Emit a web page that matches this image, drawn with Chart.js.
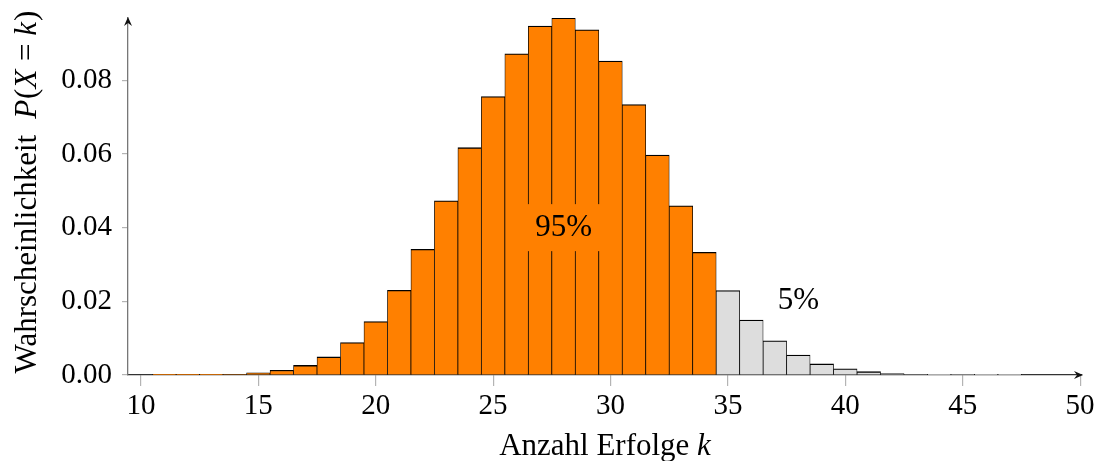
<!DOCTYPE html>
<html>
<head>
<meta charset="utf-8">
<script src="https://cdn.jsdelivr.net/npm/chart.js@4.4.1/dist/chart.umd.min.js"></script>
<style>
  html, body { margin: 0; padding: 0; background: #fff; }
  #wrap { width: 1099px; height: 461px; position: relative; }
</style>
</head>
<body>
<div id="wrap"><canvas id="chart"></canvas></div>
<script>
// number of successes k and P(X = k)
const ks = [10, 11, 12, 13, 14, 15, 16, 17, 18, 19, 20, 21, 22, 23, 24, 25, 26, 27, 28, 29,
            30, 31, 32, 33, 34, 35, 36, 37, 38, 39, 40, 41, 42, 43, 44, 45, 46, 47, 48, 49, 50];
const probs = [0.00000, 0.00001, 0.00003, 0.00008, 0.0002, 0.0006, 0.0013, 0.0026, 0.0049, 0.0088,
               0.0145, 0.0230, 0.0341, 0.0473, 0.0617, 0.0756, 0.0872, 0.0947, 0.0969, 0.0937,
               0.0852, 0.0734, 0.0597, 0.0459, 0.0333, 0.0229, 0.0149, 0.0093, 0.0054, 0.0030,
               0.0017, 0.0009, 0.0004, 0.0002, 0.0001, 0.00004, 0.00002, 0.00001, 0.0, 0.0, 0.0];
const tailFrom = 35; // k >= 35 is the grey 5% tail

const xTicks = [10, 15, 20, 25, 30, 35, 40, 45, 50];
const yTicks = [0, 0.02, 0.04, 0.06, 0.08];

const labelTexts = ['95%', '5%'];
const labelX = [28, 38];
const labelY = [0.04, 0.02];
const labelBoxed = [true, false];

const ORANGE = '#ff8000';
const GREY = '#dddddd';
const FONT = '"Liberation Serif", "DejaVu Serif", serif';

// draws axis titles (with italic math parts), arrows and the 95% / 5% labels
const decorations = {
  id: 'decorations',
  afterDatasetsDraw(chart) {
    const { ctx, chartArea: a, scales: { x, y } } = chart;
    ctx.save();
    ctx.textBaseline = 'middle';
    ctx.textAlign = 'center';
    ctx.font = '31px ' + FONT;
    labelTexts.forEach((t, i) => {
      const px = x.getPixelForValue(labelX[i]);
      const py = y.getPixelForValue(labelY[i]);
      if (labelBoxed[i]) {
        const w = ctx.measureText(t).width + 28;
        ctx.fillStyle = ORANGE;
        ctx.fillRect(px - w / 2, py - 23.5, w, 47);
      }
      ctx.fillStyle = '#000';
      ctx.fillText(t, px, py);
    });
    ctx.restore();
  },
  afterDraw(chart) {
    const { ctx, chartArea: a } = chart;
    ctx.save();
    ctx.fillStyle = '#111';
    // arrow heads
    ctx.beginPath();
    ctx.moveTo(a.left, a.top - 1);
    ctx.lineTo(a.left - 4, a.top + 8);
    ctx.lineTo(a.left, a.top + 5);
    ctx.lineTo(a.left + 4, a.top + 8);
    ctx.closePath();
    ctx.fill();
    ctx.beginPath();
    ctx.moveTo(a.right + 1, a.bottom);
    ctx.lineTo(a.right - 8, a.bottom - 4);
    ctx.lineTo(a.right - 5, a.bottom);
    ctx.lineTo(a.right - 8, a.bottom + 4);
    ctx.closePath();
    ctx.fill();

    // axis titles
    const roman = '31px ' + FONT;
    const ital = 'italic 31px ' + FONT;
    const drawRich = (parts, cx, baseY) => {
      let total = 0;
      parts.forEach(p => { ctx.font = p[1]; total += ctx.measureText(p[0]).width + (p[2] || 0); });
      let cur = cx - total / 2;
      ctx.textAlign = 'left';
      ctx.textBaseline = 'alphabetic';
      ctx.fillStyle = '#000';
      parts.forEach(p => {
        ctx.font = p[1];
        ctx.fillText(p[0], cur, baseY);
        cur += ctx.measureText(p[0]).width + (p[2] || 0);
      });
    };
    drawRich([['Anzahl Erfolge ', roman], ['k', ital]], (a.left + a.right) / 2, 455);

    ctx.translate(36, 192);
    ctx.rotate(-Math.PI / 2);
    drawRich([
      ['Wahrscheinlichkeit', roman, 16],
      ['P', ital, 1], ['(', roman], ['X', ital, 1], [' = ', roman], ['k', ital, 1], [')', roman]
    ], 0, 0);
    ctx.restore();
  }
};

new Chart(document.getElementById('chart'), {
  type: 'bar',
  data: {
    datasets: [{
      data: ks.map((k, i) => ({ x: k, y: probs[i] })),
      backgroundColor: ks.map(k => (k >= tailFrom ? GREY : ORANGE)),
      borderColor: '#000',
      borderWidth: { top: 1.3, left: 0.75, right: 0.75, bottom: 0 },
      borderSkipped: false,
      barPercentage: 1,
      categoryPercentage: 1
    }]
  },
  options: {
    responsive: true,
    maintainAspectRatio: false,
    animation: false,
    layout: { padding: { top: 18, right: 17, left: 0, bottom: 0 } },
    plugins: { legend: { display: false }, tooltip: { enabled: false } },
    scales: {
      x: {
        type: 'linear',
        min: 9.45,
        max: 50.08,
        offset: false,
        afterBuildTicks: s => { s.ticks = xTicks.map(v => ({ value: v })); },
        afterFit: s => { s.height = 86; s.paddingLeft = 0; s.paddingRight = 0; },
        grid: { offset: false, drawOnChartArea: false, tickLength: 11, color: '#b4b4b4', lineWidth: 1.2 },
        border: { color: '#333', width: 1.3 },
        ticks: { font: { family: FONT, size: 29 }, color: '#000', padding: 3, maxRotation: 0 }
      },
      y: {
        min: 0,
        max: 0.0969,
        afterBuildTicks: s => { s.ticks = yTicks.map(v => ({ value: v })); },
        afterFit: s => { s.width = 128; s.paddingTop = 0; s.paddingBottom = 0; },
        grid: { drawOnChartArea: false, tickLength: 6, color: '#b4b4b4', lineWidth: 1.2 },
        border: { color: '#777', width: 1.3 },
        ticks: {
          font: { family: FONT, size: 29 },
          color: '#000',
          padding: 10,
          callback: v => v.toFixed(2)
        }
      }
    }
  },
  plugins: [decorations]
});
</script>
</body>
</html>
